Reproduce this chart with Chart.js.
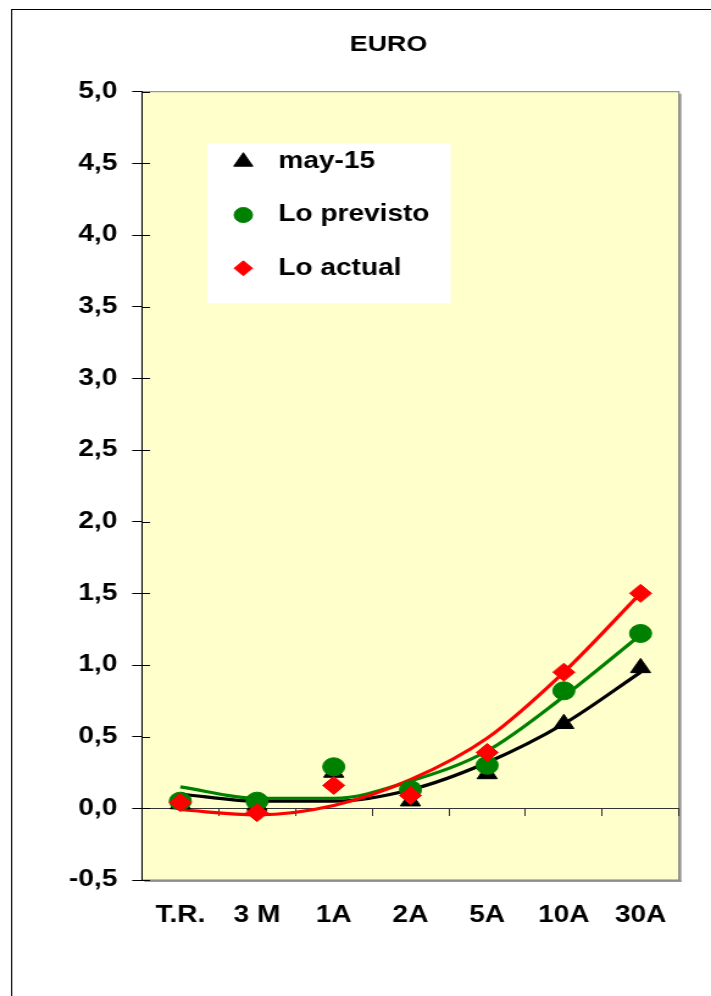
<!DOCTYPE html>
<html>
<head>
<meta charset="utf-8">
<title>EURO</title>
<script src="https://cdn.jsdelivr.net/npm/chart.js@4.4.1/dist/chart.umd.min.js"></script>
<style>
  html, body { margin: 0; padding: 0; background: #fff; overflow: hidden; }
  #chart { display: block; }
</style>
</head>
<body>
<!-- the reference is stretched sideways, so the canvas is drawn narrow and widened by css -->
<canvas id="chart" width="583" height="996" style="width:711px;height:996px"></canvas>
<script>
var plazos = ['T.R.', '3 M', '1A', '2A', '5A', '10A', '30A'];

// markers
var may15 = [0.03, 0.02, 0.25, 0.05, 0.24, 0.59, 0.98];
var previsto = [0.05, 0.05, 0.29, 0.13, 0.30, 0.82, 1.22];
var actual = [0.04, -0.03, 0.16, 0.09, 0.39, 0.95, 1.50];

// trend lines, read at each term
var tendMay15 = [0.10, 0.05, 0.05, 0.13, 0.32, 0.59, 0.95];
var tendPrevisto = [0.15, 0.07, 0.07, 0.19, 0.40, 0.78, 1.21];
var tendActual = [-0.01, -0.045, 0.02, 0.20, 0.49, 0.95, 1.50];

var yMin = -0.5, yMax = 5.0, yStep = 0.5;

var fuente = '"Liberation Sans", Arial, sans-serif';
Chart.defaults.font.family = fuente;
Chart.defaults.color = '#000';

var fondo = {
  id: 'fondo',
  beforeDraw: function (chart) {
    var c = chart.ctx, a = chart.chartArea;
    c.save();
    c.fillStyle = '#fff';
    c.fillRect(0, 0, chart.width, chart.height);
    c.strokeStyle = '#000';
    c.lineWidth = 1;
    c.strokeRect(9.5, 9.5, chart.width + 40, chart.height + 40);
    c.fillStyle = '#ffffcc';
    c.fillRect(a.left, a.top, a.width, a.height);
    c.fillStyle = '#9a9a9a';
    c.fillRect(a.right, a.top + 2, 2, a.height);
    c.fillRect(a.left + 2, a.bottom, a.width, 2);
    c.strokeStyle = '#808080';
    c.strokeRect(a.left, a.top, a.width, a.height);
    c.restore();
  }
};

// small tick stubs on the inner side of the value axis
var marcasY = {
  id: 'marcasY',
  beforeDatasetsDraw: function (chart) {
    var s = chart.scales.y, c = chart.ctx, x = chart.chartArea.left;
    c.save();
    c.strokeStyle = '#000';
    c.lineWidth = 1;
    s.ticks.forEach(function (t) {
      var py = Math.round(s.getPixelForValue(t.value)) + 0.5;
      c.beginPath();
      c.moveTo(x, py);
      c.lineTo(x + 6.6, py);
      c.stroke();
    });
    c.restore();
  }
};

var leyenda = {
  id: 'leyenda',
  afterDatasetsDraw: function (chart, args, o) {
    var c = chart.ctx, a = chart.chartArea;
    var x0 = a.left + o.left, y0 = a.top + o.top;
    c.save();
    c.fillStyle = '#fff';
    c.fillRect(x0, y0, o.width, o.height);
    o.items.forEach(function (label, i) {
      var ds = chart.data.datasets.find(function (d) { return d.label === label; });
      var y = y0 + o.firstRow + i * o.rowGap;
      c.fillStyle = ds.backgroundColor;
      c.strokeStyle = ds.borderColor;
      c.lineWidth = 1;
      Chart.helpers.drawPoint(c, { pointStyle: ds.pointStyle, radius: o.radius[i], rotation: 0, borderWidth: 1 }, x0 + o.markerX, y);
      c.fillStyle = '#000';
      c.font = 'bold 23px ' + fuente;
      c.textAlign = 'left';
      c.textBaseline = 'middle';
      c.fillText(label, x0 + o.textX, y);
    });
    c.restore();
  }
};

var ctx = document.getElementById('chart').getContext('2d');
var chart = new Chart(ctx, {
  type: 'line',
  data: {
    labels: plazos,
    datasets: [
      { label: 'Lo actual', data: actual, showLine: false, pointStyle: 'rectRot', pointRadius: 9,
        backgroundColor: '#ff0000', borderColor: '#ff0000', pointBorderWidth: 1, order: 1 },
      { label: 'Lo previsto', data: previsto, showLine: false, pointStyle: 'circle', pointRadius: 9,
        backgroundColor: '#008000', borderColor: '#008000', pointBorderWidth: 1, order: 2 },
      { label: 'may-15', data: may15, showLine: false, pointStyle: 'triangle', pointRadius: 9.5,
        backgroundColor: '#000000', borderColor: '#000000', pointBorderWidth: 1, order: 3 },
      { label: 'Tendencia may-15', data: tendMay15, borderColor: '#000000', borderWidth: 3.2,
        pointRadius: 0, cubicInterpolationMode: 'monotone', order: 6 },
      { label: 'Tendencia previsto', data: tendPrevisto, borderColor: '#008000', borderWidth: 3.2,
        pointRadius: 0, cubicInterpolationMode: 'monotone', order: 5 },
      { label: 'Tendencia actual', data: tendActual, borderColor: '#ff0000', borderWidth: 3.2,
        pointRadius: 0, cubicInterpolationMode: 'monotone', order: 4 }
    ]
  },
  options: {
    responsive: false,
    animation: false,
    events: [],
    layout: { padding: { left: 54, right: 0, top: 0, bottom: 0 } },
    plugins: {
      legend: { display: false },
      tooltip: { enabled: false },
      title: {
        display: true,
        text: 'EURO',
        color: '#000',
        font: { size: 22, weight: 'bold' },
        padding: { top: 31.8, bottom: 33.5 }
      },
      leyenda: {
        items: ['may-15', 'Lo previsto', 'Lo actual'],
        radius: [9, 7.5, 7.5],
        left: 53.6, top: 51.6, width: 199.6, height: 160,
        markerX: 29.5, textX: 58.2, firstRow: 18.4, rowGap: 53.3
      }
    },
    scales: {
      x: {
        type: 'category',
        position: { y: 0 },
        offset: true,
        ticks: { display: false },
        grid: { display: true, drawOnChartArea: false, drawTicks: true, tickLength: 7, color: '#333', offset: true },
        border: { display: true, color: '#333', width: 1 },
        afterFit: function (s) { s.height = 0; }
      },
      x2: {
        type: 'category',
        position: 'bottom',
        offset: true,
        grid: { display: false, drawTicks: false },
        border: { display: false },
        ticks: { color: '#000', font: { size: 23, weight: 'bold' }, padding: 22, maxRotation: 0, autoSkip: false },
        afterFit: function (s) { s.height = 116; }
      },
      y: {
        position: 'left',
        min: yMin,
        max: yMax,
        ticks: {
          stepSize: yStep,
          color: '#000',
          padding: 12.2,
          font: { size: 23, weight: 'bold' },
          callback: function (v) { return v.toFixed(1).replace('.', ','); }
        },
        grid: { drawOnChartArea: false, drawTicks: true, tickLength: 8, color: '#000' },
        border: { color: '#000', width: 1 },
        afterFit: function (s) { s.width = 62.4; }
      },
      // empty right-hand axis that only holds the white margin beside the plot
      yDer: {
        type: 'linear',
        position: 'right',
        display: true,
        ticks: { display: false },
        grid: { display: false, drawTicks: false },
        border: { display: false },
        afterFit: function (s) { s.width = 26.3; }
      }
    }
  },
  plugins: [fondo, marcasY, leyenda]
});
</script>
</body>
</html>
